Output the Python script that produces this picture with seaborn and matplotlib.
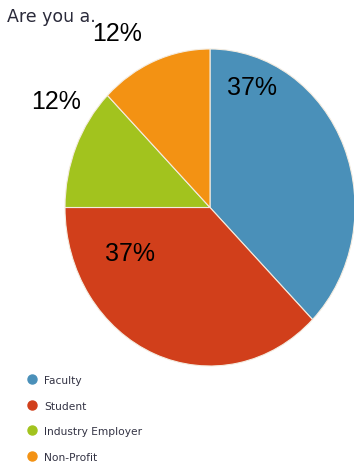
import matplotlib
matplotlib.use("Agg")
import matplotlib.pyplot as plt
from matplotlib.lines import Line2D
import seaborn as sns

categories = ["Faculty", "Student", "Industry Employer", "Non-Profit"]
values = [3, 3, 1, 1]
pct_labels = ["37%", "37%", "12%", "12%"]
colors = ["#4A90B9", "#D13F1B", "#A2C31E", "#F39213"]
title = "Are you a."

# label placement (axes data coords of the unit pie)
label_pos = [(0.29, 0.76), (-0.55, -0.29), (-1.06, 0.67), (-0.64, 1.10)]

sns.set_style("white")
plt.rcParams['font.family'] = ['Liberation Sans', 'DejaVu Sans']

W, H = 354, 464
fig = plt.figure(figsize=(W / 100, H / 100), dpi=100)
# pie box in pixels: x 65..355, y 50..367
ax = fig.add_axes([65 / W, (H - 367) / H, 290 / W, 317 / H])
pal = sns.color_palette(colors)
wedges, _ = ax.pie(values, colors=pal, startangle=90, counterclock=False,
                   wedgeprops=dict(edgecolor="#f4ece0", linewidth=0.8))
ax.set_aspect('auto')
ax.set_xlim(-1, 1)
ax.set_ylim(-1, 1)
ax.axis('off')
for w in wedges:
    w.set_clip_on(False)

for (x, y), t in zip(label_pos, pct_labels):
    ax.text(x, y, t, ha='center', va='center', fontsize=18, color='black',
            clip_on=False)

fig.text(7 / W, 1 - 17 / H, title, ha='left', va='center', fontsize=12.5,
         color='#2a2a3a', family=['DejaVu Sans'])

handles = [Line2D([0], [0], marker='o', linestyle='none', markersize=6.5,
                  markerfacecolor=c, markeredgecolor=c) for c in pal]
fig.legend(handles, categories, loc='upper left',
           bbox_to_anchor=(26 / W, 1 - 376 / H), frameon=False,
           prop=dict(family='DejaVu Sans', size=7.7), labelcolor='#333344',
           labelspacing=1.45, handletextpad=0.5, handlelength=1.2,
           borderaxespad=0, borderpad=0)

fig.savefig("out.png", dpi=100)
